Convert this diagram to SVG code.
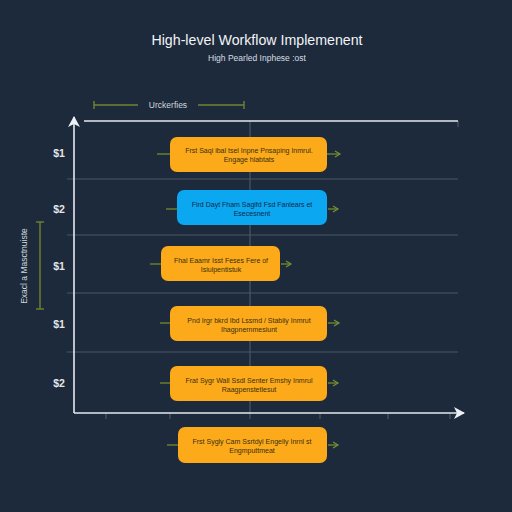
<svg xmlns="http://www.w3.org/2000/svg" width="512" height="512" viewBox="0 0 512 512">
<style>
.bg{fill:#1d2a3b}
.title{font-family:"Liberation Sans",Arial,sans-serif;font-size:14.2px;fill:#f2f4f7;text-anchor:middle}
.sub{font-family:"Liberation Sans",Arial,sans-serif;font-size:8.5px;fill:#d8dde4;text-anchor:middle}
.ylab{font-family:"Liberation Sans",Arial,sans-serif;font-size:10.5px;font-weight:bold;fill:#e3e7ec;text-anchor:middle}
.small{font-family:"Liberation Sans",Arial,sans-serif;font-size:8.5px;fill:#d0d6de;text-anchor:middle}
.grid{stroke:#4b5667;stroke-width:1.2;fill:none}
.axis{stroke:#e6eaef;stroke-width:1.6;fill:none}
.brk{stroke:#6f8530;stroke-width:1.4;fill:none}
.node{fill:#fcaa1a}
.nodeb{fill:#0ba7f1}
.nt{font-family:"Liberation Sans",Arial,sans-serif;font-size:7px;fill:#3a2e10;text-anchor:middle}
.ntb{font-family:"Liberation Sans",Arial,sans-serif;font-size:7px;fill:#0d2a4a;text-anchor:middle}
.con{stroke:#6f8530;stroke-width:1.4;fill:none}
</style>
<defs>
<marker id="ar" markerWidth="8" markerHeight="8" refX="6" refY="4" orient="auto" markerUnits="userSpaceOnUse">
<path d="M1,1 L6,4 L1,7" fill="none" stroke="#7a9034" stroke-width="1.2"/>
</marker>
<marker id="ax" markerWidth="12" markerHeight="12" refX="10" refY="6" orient="auto" markerUnits="userSpaceOnUse">
<path d="M0,0 L11,6 L0,12 L3,6 Z" fill="#eef1f4"/>
</marker>
</defs>
<rect class="bg" x="0" y="0" width="512" height="512"/>

<text class="title" x="257" y="45">High-level Workflow Implemenent</text>
<text class="sub" x="257" y="61">High Pearled Inphese :ost</text>

<g id="top-bracket">
<line class="brk" x1="94" y1="105" x2="138" y2="105"/>
<line class="brk" x1="198" y1="105" x2="244" y2="105"/>
<line class="brk" x1="94" y1="101" x2="94" y2="109"/>
<line class="brk" x1="244" y1="101" x2="244" y2="109"/>
<text class="small" x="168" y="108">Urckerfies</text>
</g>

<g id="grid">
<line class="grid" x1="67" y1="179" x2="458" y2="179"/>
<line class="grid" x1="67" y1="235" x2="458" y2="235"/>
<line class="grid" x1="67" y1="293" x2="458" y2="293"/>
<line class="grid" x1="67" y1="352" x2="458" y2="352"/>
<line class="grid" x1="250" y1="121" x2="250" y2="419"/>
<line class="grid" x1="458" y1="121" x2="458" y2="127"/>
<line class="grid" x1="106" y1="413" x2="106" y2="419"/>
<line class="grid" x1="170" y1="413" x2="170" y2="419"/>
<line class="grid" x1="320" y1="413" x2="320" y2="419"/>
<line class="grid" x1="388" y1="413" x2="388" y2="419"/>
<line class="grid" x1="450" y1="413" x2="450" y2="419"/>
</g>

<g id="axes">
<line class="axis" x1="84" y1="121" x2="458" y2="121"/>
<line class="axis" x1="74" y1="413" x2="74" y2="117" marker-end="url(#ax)"/>
<line class="axis" x1="74" y1="413" x2="464" y2="413" marker-end="url(#ax)"/>
</g>

<g id="y-labels">
<text class="ylab" x="59" y="157">$1</text>
<text class="ylab" x="59" y="213">$2</text>
<text class="ylab" x="59" y="270">$1</text>
<text class="ylab" x="59" y="328">$1</text>
<text class="ylab" x="59" y="387">$2</text>
</g>

<g id="left-bracket">
<line class="brk" x1="40" y1="222" x2="40" y2="309"/>
<line class="brk" x1="36" y1="222" x2="44" y2="222"/>
<line class="brk" x1="36" y1="309" x2="44" y2="309"/>
<text class="small" transform="translate(27,266) rotate(-90)" font-size="8">Exacl a Masctnuiste</text>
</g>

<g id="connectors">
<line class="con" x1="157" y1="154" x2="170" y2="154"/>
<line class="con" x1="327" y1="154" x2="340" y2="154" marker-end="url(#ar)"/>
<line class="con" x1="166" y1="209" x2="177" y2="209"/>
<line class="con" x1="328" y1="209" x2="338" y2="209" marker-end="url(#ar)"/>
<line class="con" x1="150" y1="264" x2="161" y2="264"/>
<line class="con" x1="281" y1="264" x2="291" y2="264" marker-end="url(#ar)"/>
<line class="con" x1="160" y1="323" x2="170" y2="323"/>
<line class="con" x1="328" y1="323" x2="339" y2="323" marker-end="url(#ar)"/>
<line class="con" x1="160" y1="383" x2="170" y2="383"/>
<line class="con" x1="328" y1="383" x2="338" y2="383" marker-end="url(#ar)"/>
<line class="con" x1="167" y1="445" x2="178" y2="445"/>
<line class="con" x1="328" y1="445" x2="338" y2="445" marker-end="url(#ar)"/>
</g>

<g id="node1">
<rect class="node" x="170" y="137" width="157" height="35" rx="7"/>
<text class="nt" x="249" y="153">Frst Saqi ibal tsel Inpne Pnsaping Inmrul.</text>
<text class="nt" x="249" y="162">Engage hlabtats</text>
</g>
<g id="node2">
<rect class="nodeb" x="177" y="190" width="150" height="35" rx="7"/>
<text class="ntb" x="252" y="207">Fird Dayt Fham Sagifd Fsd Fanlears et</text>
<text class="ntb" x="252" y="216">Esecesnent</text>
</g>
<g id="node3">
<rect class="node" x="161" y="246" width="119" height="35" rx="7"/>
<text class="nt" x="221" y="263">Fhal Eaamr Isst Feses Fere of</text>
<text class="nt" x="221" y="272">Isiulpentistuk</text>
</g>
<g id="node4">
<rect class="node" x="170" y="306" width="157" height="35" rx="7"/>
<text class="nt" x="249" y="323">Pnd Irgr bkrd Ibd Lssmd / Stabily Inmrut</text>
<text class="nt" x="249" y="332">Ihagpnernmesiunt</text>
</g>
<g id="node5">
<rect class="node" x="170" y="366" width="157" height="35" rx="7"/>
<text class="nt" x="249" y="383">Frat Sygr Wall Ssdl Senter Emshy Inmrul</text>
<text class="nt" x="249" y="392">Raagpenstetlesut</text>
</g>
<g id="node6">
<rect class="node" x="178" y="427" width="149" height="36" rx="7"/>
<text class="nt" x="252" y="444">Frst Sygly Cam Ssrtdyl Engeliy Inrnl st</text>
<text class="nt" x="252" y="453">Engmputtmeat</text>
</g>
</svg>
